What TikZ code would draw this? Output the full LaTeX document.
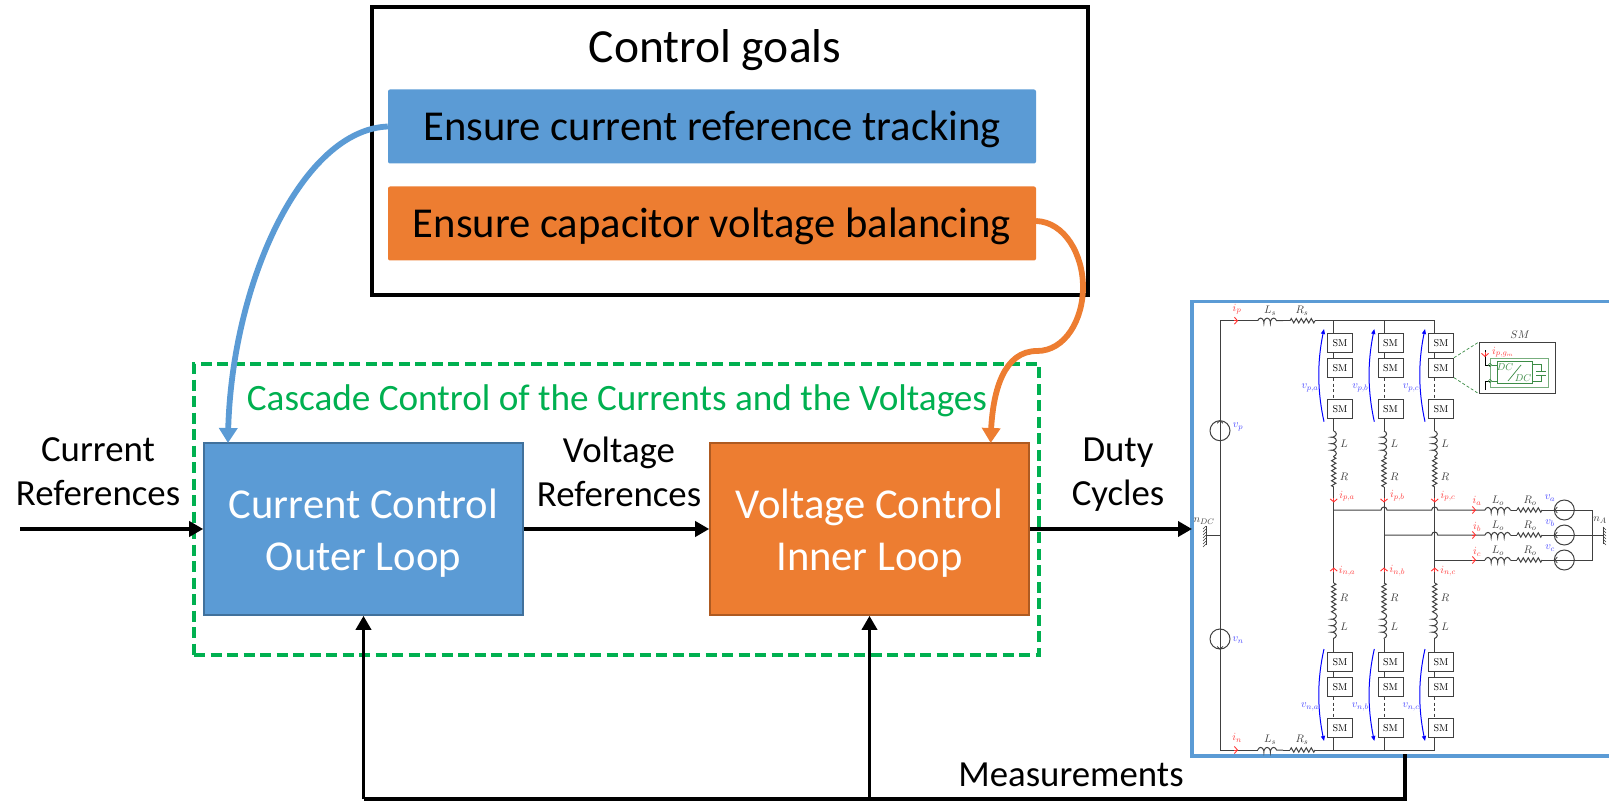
\documentclass[tikz,border=0pt]{standalone}
\usepackage[no-math]{fontspec}
\setmainfont{Carlito}
\usetikzlibrary{arrows.meta,decorations.pathmorphing,calc,bending}
\definecolor{cblue}{HTML}{5B9BD5}
\definecolor{cbluedk}{HTML}{41719C}
\definecolor{corange}{HTML}{ED7D31}
\definecolor{corangedk}{HTML}{AE5A21}
\definecolor{cgreen}{HTML}{00B050}
\definecolor{smgreen}{HTML}{3C8C46}
\definecolor{wire}{gray}{0.25}
\newcommand{\cktfont}{\fontsize{11}{13}\selectfont}
\tikzset{
  goalbar/.style={rectangle,rounded corners=2pt,inner sep=0pt,minimum width=648pt,minimum height=74pt,text=black,text height=29pt,text depth=0pt,font=\fontsize{42.6}{50}\selectfont},
  loopblock/.style={rectangle,line width=1.6pt,minimum width=319pt,minimum height=172pt,inner sep=0pt},
  looptext/.style={inner sep=0pt,align=center,text=white,font=\fontsize{42.6}{52}\selectfont},
  biglabel/.style={align=center,inner sep=0pt,font=\fontsize{36.8}{44}\selectfont},
  mainarrow/.style={line width=3.8pt,-{Triangle[length=14pt,width=15pt]}},
  curvearrow/.style={line width=5.8pt,-{Triangle[length=15pt,width=18pt,flex]}},
  ckt/.style={line width=1pt,draw=wire},
  smbox/.style={draw=wire,line width=1pt,fill=white,minimum width=25pt,minimum height=19pt,inner sep=0pt},
  lab/.style={inner sep=0pt,text=wire,font=\cktfont},
  redlab/.style={inner sep=0pt,text=red!75,font=\cktfont},
  bluelab/.style={inner sep=0pt,text=blue!70,font=\cktfont},
  coilw/.style={ckt,decorate,decoration={coil,aspect=0.5,segment length=6.5pt,amplitude=2.6pt}},
  resw/.style={ckt,decorate,decoration={zigzag,segment length=5pt,amplitude=2.2pt}},
  redchev/.style={draw=red!80,line width=0.9pt,-{Straight Barb[length=3pt,width=7pt]}},
  vbow/.style={draw=blue,line width=1pt,-{Triangle[length=5pt,width=4pt]}},
  srccirc/.style={circle,draw=wire,line width=1pt,minimum size=20pt,inner sep=0pt},
  srctip/.style={draw=wire,line width=0.8pt,-{Straight Barb[length=2.5pt,width=6pt]}},
}
\begin{document}
\begin{tikzpicture}[x=1pt,y=-1pt]
\useasboundingbox (0,0) rectangle (1609,802);

% Control goals
\node[draw=black,line width=3.8pt,minimum width=716pt,minimum height=288pt,inner sep=0pt] (goals) at (730,151) {};
\node[inner sep=0pt,font=\fontsize{47.5}{56}\selectfont] (goaltitle) at (715,50) {Control goals};
\node[goalbar,fill=cblue] (g1) at (712,126.5) {Ensure current reference tracking};
\node[goalbar,fill=corange] (g2) at (712,223.5) {Ensure capacitor voltage balancing};

% Cascade
\node[draw=cgreen,dash pattern=on 11pt off 5.5pt,line width=3.5pt,minimum width=845pt,minimum height=291pt,inner sep=0pt] (casc) at (616.5,509.5) {};
\node[inner sep=0pt,text=cgreen,font=\fontsize{37.2}{44}\selectfont] (casctitle) at (617,401) {Cascade Control of the Currents and the Voltages};

\node[loopblock,fill=cblue,draw=cbluedk] (outer) at (363.5,529) {};
\node[loopblock,fill=corange,draw=corangedk] (inner) at (869.5,529) {};
\node[looptext] (outert) at (363.5,533) {Current Control\\Outer Loop};
\node[looptext] (innert) at (869.5,533) {Voltage Control\\Inner Loop};

% Frame
\coordinate (fin) at (1192,529);
\draw[cblue,line width=3.8pt] (1609,301.5) -- (1192,301.5) -- (1192,756) -- (1609,756);

% Curves
\coordinate (bluein) at (228,443);
\coordinate (orangein) at (990.7,443);
\draw[cblue,curvearrow] (g1.west) .. controls (300,130) and (228,290) .. (bluein);
\draw[corange,curvearrow] (1036,221) .. controls (1065,222) and (1083,255) .. (1083,287) .. controls (1083,320) and (1065,351) .. (1037,351) .. controls (1000,351) and (991,400) .. (orangein);

% Signals
\coordinate (start) at (20,529);
\draw[mainarrow] (start) -- (outer.west);
\draw[mainarrow] (outer.east) -- (inner.west);
\draw[mainarrow] (inner.east) -- (fin);
\node[biglabel] (l1) at (98,472) {Current\\References};
\node[biglabel] (l2) at (619,472) {Voltage\\References};
\node[biglabel] (l3) at (1118,474.5) {Duty\\Cycles};
\node[biglabel] (l4) at (1071,775) {Measurements};

\coordinate (mtop) at (1405,754);
\coordinate (mbr) at (1405,799);
\coordinate (mbo) at (363.5,799);
\coordinate (mbi) at (869.5,799);
\draw[line width=3.8pt,line join=miter] (mtop) -- (mbr) -- (mbo);
\draw[mainarrow] (mbo) -- (outer.south);
\draw[mainarrow] (mbi) -- (inner.south);

% Circuit: rails
\coordinate (tl) at (1220,320.7);
\coordinate (bl) at (1220,750);
\node[srccirc] (vp) at (1220,430.7) {};
\node[srccirc] (vn) at (1220,639) {};
\draw[ckt] (tl) -- (bl);
\draw[srctip] (1220,422) -- (vp.north);
\draw[srctip] (1220,648) -- (vn.south);
\node[bluelab] (vpl) at (1238,427) {$v_p$};
\node[bluelab] (vnl) at (1238,640) {$v_n$};
\node[lab] (ndc) at (1204,521) {$n_{DC}$};
\foreach \yy/\ii/\ly/\iy in {320.7/p/311/309,750/n/740/738}{
  \draw[ckt] (1220,\yy) -- (1257.7,\yy);
  \draw[coilw] (1257.7,\yy) -- (1283,\yy);
  \draw[ckt] (1283,\yy) -- (1290,\yy);
  \draw[resw] (1290,\yy) -- (1315,\yy);
  \draw[ckt] (1315,\yy) -- (1434.7,\yy);
  \draw[redchev] (1234,\yy) -- (1238,\yy);
  \node[lab] at (1270,\ly) {$L_s$};
  \node[lab] at (1302,\ly) {$R_s$};
  \node[redlab] at (1237,\iy) {$i_{\ii}$};
}
% Grounds
\draw[ckt] (1206,535) -- (1220,535);
\draw[ckt] (1206,526) -- (1206,545);
\foreach \k in {0,...,6}{\draw[wire,line width=0.6pt] (1206,526+\k*3) -- ++(-3,3);}
\draw[ckt] (1592.7,535) -- (1603,535);
\draw[ckt] (1603,527) -- (1603,544);
\foreach \k in {0,...,5}{\draw[wire,line width=0.6pt] (1603,527+\k*3) -- ++(3,3);}
\node[lab] (nA) at (1600,520) {$n_A$};

% Arms
\foreach \n/\xl/\xb/\ph in {1/1333.7/1340/a,2/1384/1390.5/b,3/1434.7/1441/c}{
  \pgfmathsetmacro{\dx}{\xl-1333.7}
  % upper arm
  \draw[ckt] (\xl,320.7) -- (\xl,376);
  \draw[ckt,dash pattern=on 3pt off 2.5pt] (\xl,378) -- (\xl,399);
  \draw[ckt] (\xl,418) -- (\xl,431);
  \draw[coilw] (\xl,431) -- (\xl,457);
  \draw[resw] (\xl,457) -- (\xl,487);
  \draw[ckt] (\xl,487) -- (\xl,583);
  \draw[redchev] (\xl,498) -- (\xl,502.5);
  \node[smbox] (up1\n) at (\xb,342.7) {$\mathrm{SM}$};
  \node[smbox] (up2\n) at (\xb,367.7) {$\mathrm{SM}$};
  \node[smbox] (up3\n) at (\xb,409) {$\mathrm{SM}$};
  \node[redlab] at ($(1347,496)+(\dx,0)$) {$i_{p,\ph}$};
  \node[lab] at ($(1344,444)+(\dx,0)$) {$L$};
  \node[lab] at ($(1344,477)+(\dx,0)$) {$R$};
  \node[bluelab] at ($(1310,388)+(\dx,0)$) {$v_{p,\ph}$};
  \draw[vbow] ($(1324,421.7)+(\dx,0)$) .. controls ($(1317,390)+(\dx,0)$) and ($(1317,360)+(\dx,0)$) .. ($(1324,329)+(\dx,0)$);
  % lower arm
  \draw[coilw] (\xl,613) -- (\xl,639);
  \draw[resw] (\xl,583) -- (\xl,613);
  \draw[ckt] (\xl,639) -- (\xl,697);
  \draw[ckt,dash pattern=on 3pt off 2.5pt] (\xl,697) -- (\xl,718);
  \draw[ckt] (\xl,738) -- (\xl,750);
  \draw[redchev] (\xl,572) -- (\xl,567.5);
  \node[smbox] (dn1\n) at (\xb,661.7) {$\mathrm{SM}$};
  \node[smbox] (dn2\n) at (\xb,686.7) {$\mathrm{SM}$};
  \node[smbox] (dn3\n) at (\xb,728) {$\mathrm{SM}$};
  \node[redlab] at ($(1347,571)+(\dx,0)$) {$i_{n,\ph}$};
  \node[lab] at ($(1344,598)+(\dx,0)$) {$R$};
  \node[lab] at ($(1344,627)+(\dx,0)$) {$L$};
  \node[bluelab] at ($(1310,707)+(\dx,0)$) {$v_{n,\ph}$};
  \draw[vbow] ($(1324,649)+(\dx,0)$) .. controls ($(1317,680)+(\dx,0)$) and ($(1317,710)+(\dx,0)$) .. ($(1324,741)+(\dx,0)$);
}
% Buses hop over the columns
\draw[ckt,fill=none] (1333.7,510) -- (1381,510) arc[start angle=180,end angle=0,radius=3pt] -- (1431.7,510) arc[start angle=180,end angle=0,radius=3pt] -- (1485,510);
\draw[ckt] (1384,535) -- (1431.7,535) arc[start angle=180,end angle=0,radius=3pt] -- (1485,535);
\draw[ckt] (1434.7,560) -- (1485,560);
% Outputs
\foreach \yy/\ph/\iy/\ly/\vy in {510/a/501/501/498,535/b/527/526/523,560/c/552/551/548}{
  \draw[coilw] (1485,\yy) -- (1511,\yy);
  \draw[ckt] (1511,\yy) -- (1517,\yy);
  \draw[resw] (1517,\yy) -- (1542,\yy);
  \draw[ckt] (1542,\yy) -- (1592.7,\yy);
  \node[srccirc] at (1564.3,\yy) {};
  \draw[srctip] (1558,\yy) -- (1554.3,\yy);
  \draw[redchev] (1472,\yy) -- (1476,\yy);
  \node[redlab] at (1477,\iy) {$i_\ph$};
  \node[lab] at (1498,\ly) {$L_o$};
  \node[lab] at (1530,\ly) {$R_o$};
  \node[bluelab] at (1550,\vy) {$v_\ph$};
}
\draw[ckt] (1592.7,510) -- (1592.7,560);

% SM detail
\node[draw=wire,line width=1pt,fill=white,minimum width=76pt,minimum height=50.3pt,inner sep=0pt] (smd) at (1517,367.9) {};
\node[lab] (smt) at (1520,335) {$SM$};
\draw[smgreen,dash pattern=on 3pt off 2pt,line width=0.7pt] (up23.north east) -- (smd.north west);
\draw[smgreen,dash pattern=on 3pt off 2pt,line width=0.7pt] (up23.south east) -- (smd.south west);
\draw[smgreen!70,line width=0.9pt] (1490,358) rectangle (1548,387);
\node[draw=smgreen,line width=0.9pt,minimum width=35pt,minimum height=21.6pt,inner sep=0pt] (dcdc) at (1514.8,372.5) {};
\node[inner sep=0pt,text=smgreen] (dc1) at (1505,367) {$DC$};
\node[inner sep=0pt,text=smgreen] (dc2) at (1523,378) {$DC$};
\draw[smgreen,line width=0.7pt] (1508,381) -- (1521,365);
\draw[smgreen,line width=0.7pt] (dcdc.east |- 0,364) -- (1541,364) -- (1541,371) (1536,371) -- (1546,371) (1536,375) -- (1546,375) (1541,375) -- (1541,381) -- (dcdc.east |- 0,381);
\draw[black,line width=0.9pt] (1485,350) -- (1485,365) -- (1490,365);
\draw[black,line width=0.9pt] (1485,390) -- (1485,381) -- (1490,381);
\draw[smgreen,line width=0.6pt] (1490,365) circle[radius=1.7pt] (1490,381) circle[radius=1.7pt];
\draw[smgreen,line width=0.6pt] (1491.7,365) -- (1497.3,365) (1491.7,381) -- (1497.3,381);
\draw[redchev] (1485,352) -- (1485,357);
\node[redlab] (ism) at (1503,352) {$i_{p,g_m}$};
\end{tikzpicture}
\end{document}
